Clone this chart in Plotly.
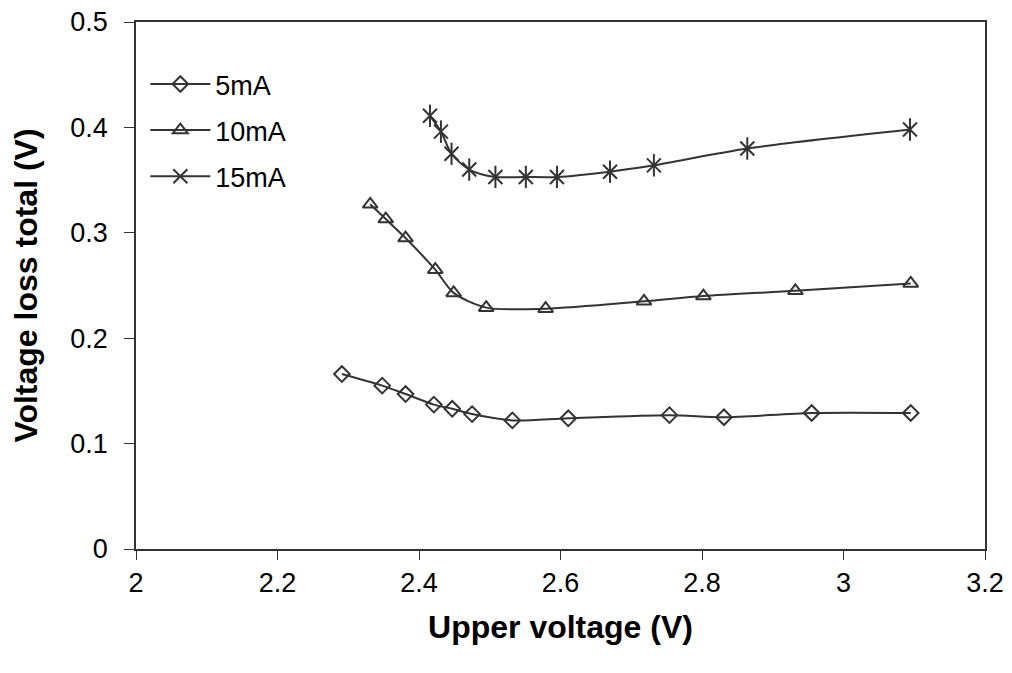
import plotly.graph_objects as go

# Data
x_5mA = [2.291, 2.348, 2.381, 2.421, 2.447, 2.475, 2.532, 2.611, 2.754, 2.831, 2.955, 3.095]
y_5mA = [0.166, 0.155, 0.147, 0.137, 0.133, 0.128, 0.122, 0.124, 0.127, 0.125, 0.129, 0.129]

x_10mA = [2.331, 2.353, 2.381, 2.423, 2.449, 2.495, 2.579, 2.718, 2.802, 2.932, 3.095]
y_10mA = [0.327, 0.313, 0.295, 0.265, 0.243, 0.229, 0.228, 0.235, 0.240, 0.245, 0.252]

x_15mA = [2.4155, 2.431, 2.446, 2.471, 2.508, 2.551, 2.595, 2.670, 2.732, 2.864, 3.094]
y_15mA = [0.411, 0.396, 0.375, 0.360, 0.353, 0.353, 0.353, 0.358, 0.364, 0.380, 0.398]

x_ticks = [2, 2.2, 2.4, 2.6, 2.8, 3, 3.2]
y_ticks = [0, 0.1, 0.2, 0.3, 0.4, 0.5]

ink = "#333333"
font = "Liberation Sans, Arial, sans-serif"

fig = go.Figure()

fig.add_trace(go.Scatter(
    x=x_5mA, y=y_5mA, name="5mA", mode="lines+markers", legendgroup="a",
    line=dict(color=ink, width=2, shape="spline", smoothing=0.8),
    marker=dict(symbol="diamond-open", size=12, color=ink, line=dict(width=2, color=ink))))

fig.add_trace(go.Scatter(
    x=x_10mA, y=y_10mA, name="10mA", mode="lines+markers", legendgroup="b",
    line=dict(color=ink, width=2, shape="spline", smoothing=0.8),
    marker=dict(symbol="triangle-up-open", size=13, color=ink, line=dict(width=2, color=ink))))

fig.add_trace(go.Scatter(
    x=x_15mA, y=y_15mA, name="15mA", mode="lines+markers", legendgroup="c",
    line=dict(color=ink, width=2, shape="spline", smoothing=0.8),
    marker=dict(symbol="x-thin-open", size=14, color=ink, line=dict(width=2, color=ink))))

# vertical stroke completes the six-armed asterisk
fig.add_trace(go.Scatter(
    x=x_15mA, y=y_15mA, mode="markers", showlegend=False, legendgroup="c", hoverinfo="skip",
    marker=dict(symbol="line-ns-open", size=16, color=ink, line=dict(width=2, color=ink))))

# page body has an 8px margin, so the figure is trimmed by that much
fig.update_layout(
    width=1004, height=665,
    margin=dict(l=128, r=27, t=14, b=124),
    plot_bgcolor="white", paper_bgcolor="white",
    font=dict(family=font, size=27, color="black"),
    showlegend=True,
    legend=dict(x=0.011, y=0.928, xanchor="left", yanchor="top", itemwidth=60,
                bgcolor="rgba(0,0,0,0)", tracegroupgap=8, traceorder="grouped",
                font=dict(size=27)),
    xaxis=dict(range=[2, 3.2], tickvals=x_ticks, ticktext=[str(v) for v in x_ticks],
               showgrid=False, zeroline=False, showline=True, linecolor=ink, linewidth=1.5,
               mirror=True, ticks="outside", ticklen=9, tickcolor=ink, ticklabelstandoff=0,
               automargin=False, ticklabeloverflow="allow",
               title=dict(text="<b>Upper voltage (V)</b>", standoff=18)),
    yaxis=dict(range=[0, 0.5], tickvals=y_ticks, ticktext=[str(v) for v in y_ticks],
               showgrid=False, zeroline=False, showline=True, linecolor=ink, linewidth=1.5,
               mirror=True, ticks="outside", ticklen=10, tickcolor=ink, ticklabelstandoff=11,
               automargin=False, ticklabeloverflow="allow",
               title=dict(text="<b>Voltage loss total (V)</b>", standoff=24)),
)

fig.write_html("out.html")
